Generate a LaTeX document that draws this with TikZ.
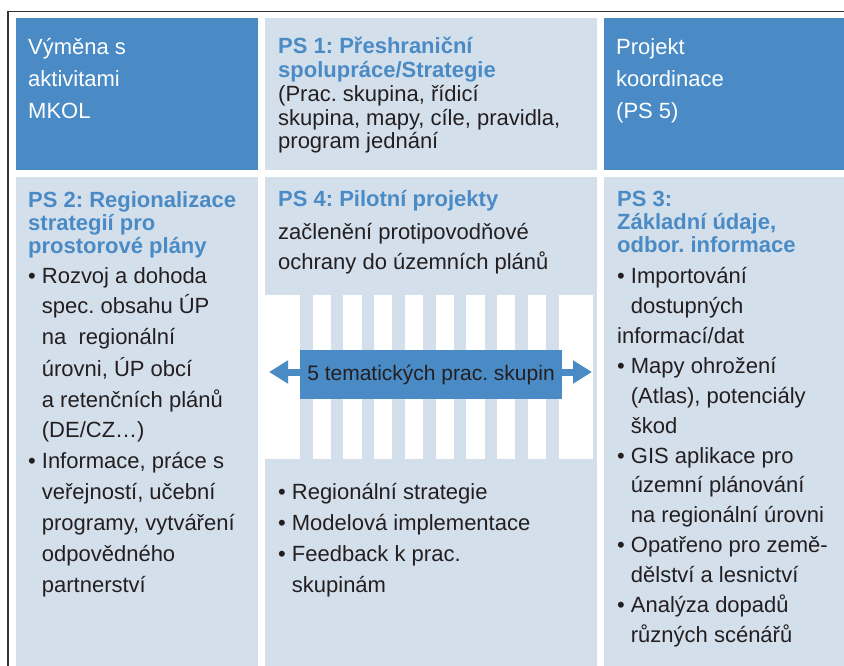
\documentclass[tikz,border=0pt]{standalone}
\usepackage{fontspec}
\setmainfont{Liberation Sans}
\usepackage{xcolor}
\usepackage{tikz}
\usetikzlibrary{arrows.meta}
\frenchspacing

\definecolor{psblue}{HTML}{4A8BC5}
\definecolor{pslight}{HTML}{D4DFEC}
\definecolor{pstext}{HTML}{231F20}
\definecolor{psframe}{HTML}{333333}

\tikzset{
	ttl/.style={anchor=base west, inner sep=0pt, text=psblue, font=\fontsize{22}{#1}\selectfont\bfseries},
	body/.style={anchor=base west, inner sep=0pt, text=pstext, font=\fontsize{22}{#1}\selectfont},
	head/.style={anchor=base west, inner sep=0pt, text=white, font=\fontsize{22}{32}\selectfont},
	twoway/.style={psblue, line width=7pt, -{Triangle[length=19pt,width=22pt]}}
}
\newcommand{\bul}{•\kern6pt}

\begin{document}
\begin{tikzpicture}[x=1pt,y=-1pt]
	% \draw[help lines] (0,0) grid (844,666);
	\useasboundingbox (0,0) rectangle (844,666);
	\fill[white] (0,0) rectangle (844,666);
	% frame
	\draw[psframe, line width=1.5pt] (8,666) -- (8,11.5) -- (844,11.5);
	% top row
	\fill[psblue] (16,18) rectangle (258,170);
	\fill[pslight] (265,18) rectangle (597,170);
	\fill[psblue] (604,18) rectangle (844,170);
	% second row
	\fill[pslight] (16,177) rectangle (258,666);
	\fill[pslight] (265,177) rectangle (597,295);
	\fill[pslight] (265,459) rectangle (597,666);
	\fill[pslight] (604,177) rectangle (844,666);
	% stripes
	\foreach \i in {0,...,8}
		\fill[pslight] (300+30.75*\i,295) rectangle +(12.5,164);
	\fill[pslight] (593,295) rectangle (597,459);

	% labels, top row
	\node[head] (mkol) at (28,55) {\begin{tabular}[t]{@{}l@{}}Výměna s\\aktivitami\\MKOL\end{tabular}};
	\node[ttl=23] (ps1) at (278,54) {\begin{tabular}[t]{@{}l@{}}PS 1: Přeshraniční\\spolupráce/Strategie\end{tabular}};
	\node[body=23.5] (ps1txt) at (278,102) {\begin{tabular}[t]{@{}l@{}}(Prac. skupina, řídicí\\skupina, mapy, cíle, pravidla,\\program jednání\end{tabular}};
	\node[head] (ps5) at (616,55) {\begin{tabular}[t]{@{}l@{}}Projekt\\koordinace\\(PS 5)\end{tabular}};

	% PS 2
	\node[ttl=22.3] (ps2) at (28,207.7) {\begin{tabular}[t]{@{}l@{}}PS 2: Regionalizace\\strategií pro\\prostorové plány\end{tabular}};
	\node[body=31] (ps2txt) at (28,283) {\begin{tabular}[t]{@{}l@{}l@{}}
		\bul & Rozvoj a dohoda\\
		& spec. obsahu ÚP\\
		& na~ regionální\\
		& úrovni, ÚP obcí\\
		& a retenčních plánů\\
		& (DE/CZ…)\\
		\bul & Informace, práce s\\
		& veřejností, učební\\
		& programy, vytváření\\
		& odpovědného\\
		& partnerství
	\end{tabular}};

	% PS 4
	\node[ttl=22] (ps4) at (278,207) {PS 4: Pilotní projekty};
	\node[body=30] (ps4txt) at (278,240) {\begin{tabular}[t]{@{}l@{}}začlenění protipovodňové\\ochrany do územních plánů\end{tabular}};
	\node[body=31] (ps4list) at (278,499) {\begin{tabular}[t]{@{}l@{}l@{}}
		\bul & Regionální strategie\\
		\bul & Modelová implementace\\
		\bul & Feedback k prac.\\
		& skupinám
	\end{tabular}};

	% 5 groups
	\coordinate (lefttip) at (269,372);
	\coordinate (righttip) at (592,372);
	\node[fill=psblue, text=pstext, minimum width=262pt, minimum height=49pt, inner sep=0pt, font=\fontsize{21}{25}\selectfont] (groups) at (431,374.5) {5 tematických prac. skupin};
	\draw[twoway] (groups.west |- lefttip) -- (lefttip);
	\draw[twoway] (groups.east |- righttip) -- (righttip);

	% PS 3
	\node[ttl=22.5] (ps3) at (617,207) {\begin{tabular}[t]{@{}l@{}}PS 3:\\Základní údaje,\\odbor. informace\end{tabular}};
	\node[body=30] (ps3txt) at (617,283) {\begin{tabular}[t]{@{}l@{}l@{}}
		\bul & Importování\\
		& dostupných\\
		\multicolumn{2}{@{}l@{}}{informací/dat}\\
		\bul & Mapy ohrožení\\
		& (Atlas), potenciály\\
		& škod\\
		\bul & GIS aplikace pro\\
		& územní plánování\\
		& na regionální úrovni\\
		\bul & Opatřeno pro země-\\
		& dělství a lesnictví\\
		\bul & Analýza dopadů\\
		& různých scénářů
	\end{tabular}};
\end{tikzpicture}
\end{document}
